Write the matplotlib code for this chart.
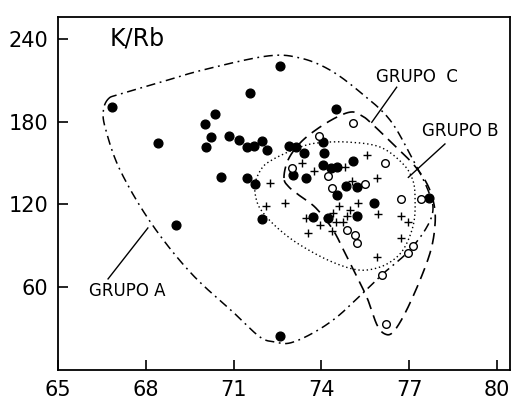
import numpy as np
import matplotlib
matplotlib.use('Agg')
from matplotlib import pyplot as plt

# SiO2 (x) vs K/Rb (y)
solid_x = [66.84, 68.42, 69.04, 72.57, 71.55, 70.35, 70.03, 70.24, 70.07, 70.84, 71.18,
           71.47, 71.70, 71.97, 72.13, 72.90, 73.13, 73.42, 74.50, 74.07, 74.09, 74.07,
           74.32, 74.54, 75.07, 70.56, 71.47, 71.72, 73.04, 73.47, 74.83, 75.23, 74.54,
           75.81, 73.72, 74.24, 75.23, 77.69, 71.98, 72.58]
solid_y = [190.3, 164.3, 105.1, 220.5, 200.5, 185.5, 178.3, 169.0, 161.8, 169.8, 166.9,
           161.4, 162.3, 166.2, 159.4, 162.0, 161.8, 157.0, 188.9, 165.4, 157.0, 148.4,
           146.1, 147.3, 151.7, 140.0, 139.3, 135.0, 141.5, 139.3, 133.2, 132.8, 126.8,
           121.2, 111.1, 109.9, 111.8, 125.0, 109.4, 25.0]

open_x = [75.07, 73.91, 72.98, 74.24, 74.36, 75.49, 76.17, 76.71, 77.39, 74.86, 75.16,
          75.23, 77.14, 76.97, 76.06, 76.19]
open_y = [179.2, 169.6, 146.6, 140.5, 132.2, 134.8, 149.8, 124.1, 123.7, 101.5, 97.8,
          92.0, 89.9, 85.0, 68.8, 33.1]

cross_x = [73.33, 73.76, 72.24, 74.80, 75.54, 75.90, 75.04, 75.25, 74.60, 75.94, 74.98,
           74.86, 73.46, 73.96, 74.41, 74.50, 74.72, 74.35, 73.53, 76.71, 76.97, 76.72,
           75.90, 72.12, 72.75]
cross_y = [150.2, 144.3, 135.3, 147.0, 155.8, 139.3, 137.1, 121.2, 119.2, 112.7, 116.1,
           111.3, 110.0, 105.1, 113.5, 107.0, 107.5, 100.5, 99.3, 111.8, 107.5, 96.0,
           82.0, 118.8, 121.2]

# group outlines (vertices)
grupo_a_x = [66.72, 67.10, 68.50, 69.95, 72.14, 73.27, 74.29, 75.32, 76.34, 77.13, 77.64,
             77.81, 77.54, 76.92, 76.17, 75.42, 74.53, 73.71, 72.93, 72.41, 71.90, 71.05,
             69.54, 68.18, 67.12, 66.62, 66.55]
grupo_a_y = [196.5, 199.8, 208.5, 217.4, 227.5, 226.1, 217.4, 201.4, 181.2, 152.2, 130.4,
             115.9, 101.4, 84.8, 71.0, 55.8, 38.4, 26.8, 19.6, 20.3, 23.9, 40.6,
             70.3, 106.5, 144.9, 175.0, 188.0]

grupo_b_x = [71.73, 71.97, 72.31, 72.86, 73.27, 73.85, 74.87, 76.00, 76.79, 77.13, 77.20,
             77.16, 76.92, 76.58, 76.00, 75.25, 74.29, 73.27, 72.58, 72.07, 71.80]
grupo_b_y = [134.8, 146.4, 152.2, 158.0, 161.6, 164.5, 165.2, 161.6, 149.3, 137.0, 123.2,
             107.2, 92.0, 81.9, 74.6, 72.5, 79.0, 90.6, 101.4, 112.3, 121.7]

grupo_c_x = [72.72, 72.86, 73.27, 73.85, 74.53, 75.04, 75.39, 75.66, 76.34, 77.13, 77.61,
             77.85, 77.88, 77.74, 77.37, 76.86, 76.45, 76.17, 75.90, 75.59, 75.32, 74.87,
             74.40, 73.81, 73.27, 72.89]
grupo_c_y = [139.1, 152.2, 164.5, 174.6, 183.3, 187.0, 184.1, 179.7, 165.9, 149.3, 134.8,
             119.6, 105.1, 87.0, 65.2, 41.3, 27.5, 26.1, 32.6, 50.7, 63.0, 81.9,
             101.4, 117.4, 126.1, 132.6]

xticks = [65, 68, 71, 74, 77, 80]
yticks = [60, 120, 180, 240]


def smooth_closed(xs, ys, n=24):
    # closed Catmull-Rom spline through the outline vertices
    pts = np.column_stack([xs, ys])
    m = len(pts)
    t = np.linspace(0, 1, n, endpoint=False)[:, None]
    out = []
    for i in range(m):
        p0, p1, p2, p3 = pts[(i - 1) % m], pts[i], pts[(i + 1) % m], pts[(i + 2) % m]
        out.append(0.5 * (2 * p1 + (-p0 + p2) * t + (2 * p0 - 5 * p1 + 4 * p2 - p3) * t ** 2
                          + (-p0 + 3 * p1 - 3 * p2 + p3) * t ** 3))
    out.append(pts[:1])
    out = np.vstack(out)
    return out[:, 0], out[:, 1]


fig = plt.figure(figsize=(5.12, 4.08), dpi=100)
ax = fig.add_axes([58 / 512, 38 / 408, 452 / 512, 353 / 408])

ax_x, ax_y = smooth_closed(grupo_a_x, grupo_a_y)
ax.plot(ax_x, ax_y, color='black', lw=1.1, linestyle=(0, (6, 3, 1.2, 3)))
bx, by = smooth_closed(grupo_b_x, grupo_b_y)
ax.plot(bx, by, color='black', lw=1.0, linestyle=(0, (1, 2)))
cx, cy = smooth_closed(grupo_c_x, grupo_c_y)
ax.plot(cx, cy, color='black', lw=1.2, linestyle=(0, (7, 4)))

ax.plot(solid_x, solid_y, 'o', color='black', markersize=6.3, linestyle='none')
ax.plot(open_x, open_y, 'o', markerfacecolor='white', markeredgecolor='black',
        markeredgewidth=1.0, markersize=5.5, linestyle='none')
ax.plot(cross_x, cross_y, '+', color='black', markersize=6, markeredgewidth=1.0,
        linestyle='none')

# labels + leader lines
ax.text(67.7, 240, 'K/Rb', fontsize=17, ha='center', va='center')
ax.text(67.36, 57, 'GRUPO A', fontsize=12, ha='center', va='center')
ax.plot([68.07, 66.71], [102.9, 66.0], color='black', lw=1.0)
ax.text(77.26, 212, 'GRUPO  C', fontsize=12, ha='center', va='center')
ax.plot([76.57, 75.72], [204.9, 179.5], color='black', lw=1.0)
ax.text(78.73, 173, 'GRUPO B', fontsize=12, ha='center', va='center')
ax.plot([78.22, 76.97], [163.8, 139.6], color='black', lw=1.0)

ax.set_xlim(65, 65 + 452 / 29.27)
ax.set_ylim(0, 255.8)
ax.set_xticks(xticks)
ax.set_xticklabels([str(v) for v in xticks])
ax.set_yticks(yticks)
ax.set_yticklabels([str(v) for v in yticks])
ax.tick_params(direction='in', length=7, width=1.2, labelsize=15, pad=7, colors='black')
for s in ax.spines.values():
    s.set_linewidth(1.3)

fig.savefig('out.png', dpi=100)
